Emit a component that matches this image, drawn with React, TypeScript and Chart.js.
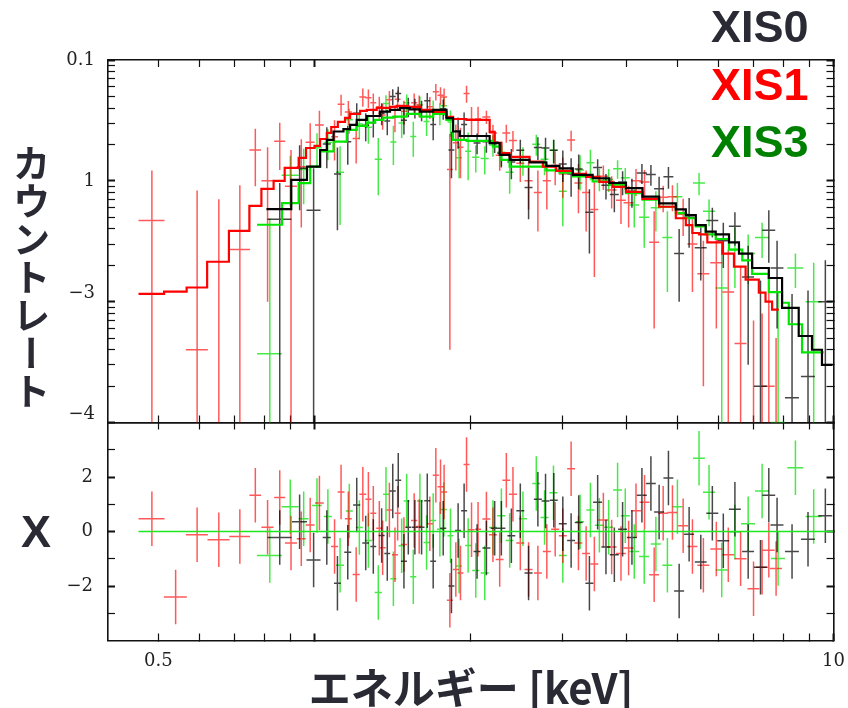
import React, { useEffect, useRef } from 'react';
import { Chart, registerables } from 'chart.js';

Chart.register(...registerables);

// ---------------- axis ranges & ticks ----------------
const X_MIN = 0.4;
const X_MAX = 10;
const RATE_MIN = 0.0001;
const RATE_MAX = 0.1;
const RESID_MIN = -4;
const RESID_MAX = 4;

const energyTicks = [0.5, 0.6, 0.7, 0.8, 0.9, 1, 2, 3, 4, 5, 6, 7, 8, 9, 10];
const energyTickLabels = ['0.5', '', '', '', '', '', '', '', '', '', '', '', '', '', '10'];
const energyMajor = [1, 10];

const rateTicks = [
  0.0001, 0.0002, 0.0003, 0.0004, 0.0005, 0.0006, 0.0007, 0.0008, 0.0009,
  0.001, 0.002, 0.003, 0.004, 0.005, 0.006, 0.007, 0.008, 0.009,
  0.01, 0.02, 0.03, 0.04, 0.05, 0.06, 0.07, 0.08, 0.09, 0.1,
];
const rateTickLabels = [
  '−4', '', '', '', '', '', '', '', '',
  '−3', '', '', '', '', '', '', '', '',
  '1', '', '', '', '', '', '', '', '', '0.1',
];
const rateMajor = [0.0001, 0.001, 0.01, 0.1];

const residTicks = [-3, -2, -1, 0, 1, 2, 3];
const residTickLabels = ['', '−2', '', '0', '', '2', ''];
const residMajor = [-2, 0, 2];
const RESID_SIGMA = 1;

// ---------------- XIS0 (black) ----------------
const xis0ModelEdges = [0.808, 0.902, 0.967, 1.025, 1.056, 1.088, 1.137, 1.171, 1.206, 1.261, 1.337, 1.398, 1.461, 1.527, 1.596, 1.693, 1.796, 1.849, 1.905, 2.175, 2.274, 2.377, 2.596, 2.796, 2.965, 3.145, 3.435, 3.699, 3.982, 4.285, 4.613, 4.968, 5.193, 5.428, 5.673, 5.930, 6.290, 6.575, 6.970, 7.505, 7.960, 8.570, 9.090, 9.501, 9.96];
const xis0Model = [0.00584, 0.0102, 0.0131, 0.0180, 0.0218, 0.0256, 0.0268, 0.0290, 0.0319, 0.0344, 0.0374, 0.0386, 0.0399, 0.0391, 0.0374, 0.0386, 0.0330, 0.0256, 0.0235, 0.0205, 0.0164, 0.0149, 0.0142, 0.0133, 0.0127, 0.0112, 0.0105, 0.0096, 0.0087, 0.0074, 0.0065, 0.0058, 0.0052, 0.0043, 0.0038, 0.0036, 0.0031, 0.0025, 0.0019, 0.00157, 0.00089, 0.00052, 0.00040, 0.00030];
const xis0E = [0.857, 0.936, 0.996, 1.056, 1.107, 1.159, 1.206, 1.255, 1.298, 1.347, 1.381, 1.415, 1.450, 1.487, 1.516, 1.561, 1.608, 1.649, 1.693, 1.770, 1.836, 1.891, 1.942, 2.057, 2.144, 2.224, 2.291, 2.395, 2.492, 2.585, 2.694, 2.787, 2.891, 3.009, 3.122, 3.229, 3.386, 3.512, 3.644, 3.782, 3.923, 4.089, 4.274, 4.448, 4.613, 4.808, 5.042, 5.270, 5.550, 5.842, 6.133, 6.457, 6.848, 7.233, 7.505, 7.785, 8.320, 8.931, 9.645];
const xis0dE = [0.0455, 0.031, 0.031, 0.019, 0.017, 0.018, 0.019, 0.019, 0.017, 0.018, 0.018, 0.019, 0.019, 0.020, 0.020, 0.021, 0.021, 0.022, 0.022, 0.024, 0.024, 0.025, 0.026, 0.032, 0.038, 0.039, 0.041, 0.042, 0.044, 0.046, 0.048, 0.049, 0.051, 0.053, 0.055, 0.057, 0.060, 0.070, 0.073, 0.075, 0.078, 0.091, 0.095, 0.098, 0.102, 0.106, 0.112, 0.117, 0.147, 0.155, 0.163, 0.171, 0.182, 0.208, 0.216, 0.224, 0.258, 0.276, 0.299];
const xis0Rate = [0.0048, 0.0127, 0.0057, 0.0202, 0.0114, 0.0211, 0.0363, 0.0288, 0.0303, 0.0363, 0.0313, 0.0498, 0.0527, 0.0317, 0.0411, 0.0403, 0.0386, 0.0459, 0.0292, 0.0395, 0.0180, 0.0259, 0.0292, 0.0206, 0.0211, 0.0210, 0.0169, 0.0143, 0.0179, 0.0088, 0.0189, 0.0187, 0.0179, 0.0138, 0.0114, 0.0125, 0.0055, 0.0129, 0.0092, 0.0077, 0.0098, 0.0082, 0.0116, 0.0113, 0.0086, 0.0108, 0.0025, 0.0050, 0.0028, 0.0047, 0.0032, 0.0042, 0.0016, 0.0002, 0.0039, 0.0019, 0.00016, 0.00024, 0.0010];
const xis0Err = [0.0048, 0.007, 0.007, 0.0075, 0.0075, 0.0075, 0.0075, 0.0075, 0.0075, 0.0075, 0.0075, 0.0075, 0.0075, 0.0075, 0.0075, 0.0075, 0.0075, 0.0075, 0.0075, 0.0075, 0.0075, 0.0075, 0.0075, 0.004, 0.004, 0.004, 0.004, 0.004, 0.004, 0.004, 0.004, 0.004, 0.004, 0.004, 0.004, 0.004, 0.003, 0.0022, 0.0022, 0.0022, 0.0022, 0.0022, 0.0022, 0.0022, 0.0022, 0.0022, 0.0015, 0.0022, 0.0013, 0.0013, 0.0013, 0.0013, 0.0013, 0.0013, 0.0018, 0.0013, 0.001, 0.001, 0.0012];
const xis0Resid = [-0.22, 0.36, -1.05, -0.22, -1.9, -0.76, 0.97, -0.42, -0.55, -0.15, -0.81, 1.49, 1.88, -1.09, 0.16, 0.16, 0.16, 1.13, -1.09, 0.12, -2.0, 0.04, 0.76, -0.73, -0.61, 0.12, 0.12, -0.16, 0.76, -1.52, 1.18, 1.12, 1.15, 0.28, -0.33, 0.33, -1.9, 1.07, -0.57, -0.85, 0.08, -0.22, 1.33, 1.76, 0.72, 1.96, -2.18, -0.1, -1.12, 0.67, -0.34, 0.82, -0.73, -1.31, 1.33, 0.24, -0.73, -0.28, 0.58];

// ---------------- XIS1 (red) ----------------
const xis1ModelEdges = [0.458, 0.513, 0.567, 0.621, 0.684, 0.749, 0.790, 0.834, 0.876, 0.932, 0.963, 1.000, 1.025, 1.056, 1.077, 1.109, 1.145, 1.171, 1.224, 1.261, 1.318, 1.398, 1.440, 1.516, 1.596, 1.693, 1.796, 1.849, 1.962, 2.175, 2.224, 2.291, 2.376, 2.596, 2.754, 2.922, 3.145, 3.336, 3.539, 3.753, 3.982, 4.285, 4.613, 4.968, 5.193, 5.346, 5.507, 5.713, 6.105, 6.430, 6.771, 7.180, 7.396, 7.616, 7.845];
const xis1Model = [0.00116, 0.00121, 0.00131, 0.00214, 0.00386, 0.00621, 0.00859, 0.0100, 0.0128, 0.0155, 0.0187, 0.0195, 0.0222, 0.0249, 0.0279, 0.0307, 0.0332, 0.0358, 0.0379, 0.0386, 0.0401, 0.0409, 0.0417, 0.0409, 0.0386, 0.0372, 0.0338, 0.0325, 0.0319, 0.0254, 0.0206, 0.0170, 0.0158, 0.0144, 0.0131, 0.0121, 0.0114, 0.0108, 0.0098, 0.0089, 0.0081, 0.0071, 0.0061, 0.0049, 0.0043, 0.0037, 0.0036, 0.0031, 0.0025, 0.00195, 0.00152, 0.00119, 0.0010, 0.00086];
const xis1E = [0.486, 0.540, 0.594, 0.654, 0.718, 0.769, 0.812, 0.857, 0.901, 0.943, 0.981, 1.022, 1.093, 1.125, 1.162, 1.203, 1.239, 1.270, 1.298, 1.333, 1.353, 1.394, 1.429, 1.446, 1.487, 1.556, 1.591, 1.668, 1.713, 1.749, 1.777, 1.823, 1.872, 1.911, 1.963, 2.007, 2.066, 2.144, 2.207, 2.274, 2.342, 2.412, 2.492, 2.585, 2.694, 2.803, 2.909, 3.009, 3.122, 3.225, 3.337, 3.461, 3.602, 3.737, 3.895, 4.029, 4.163, 4.324, 4.513, 4.697, 4.894, 5.132, 5.348, 5.614, 5.946, 6.270, 6.622, 7.013, 7.285, 7.505, 7.751];
const xis1dE = [0.028, 0.0275, 0.029, 0.032, 0.033, 0.020, 0.022, 0.021, 0.024, 0.019, 0.0195, 0.020, 0.017, 0.017, 0.018, 0.019, 0.019, 0.017, 0.017, 0.018, 0.018, 0.018, 0.019, 0.019, 0.020, 0.021, 0.021, 0.022, 0.023, 0.023, 0.024, 0.024, 0.025, 0.025, 0.026, 0.027, 0.027, 0.038, 0.039, 0.040, 0.041, 0.043, 0.044, 0.046, 0.048, 0.050, 0.052, 0.053, 0.055, 0.057, 0.059, 0.061, 0.080, 0.083, 0.086, 0.089, 0.092, 0.096, 0.100, 0.104, 0.108, 0.114, 0.118, 0.149, 0.158, 0.166, 0.176, 0.186, 0.193, 0.199, 0.206];
const xis1Rate = [0.0047, -0.0007, 0.0004, 0.00004, 0.0027, 0.018, 0.0100, 0.0213, 0.0090, 0.0131, 0.0209, 0.0290, 0.0232, 0.0430, 0.0372, 0.0224, 0.0495, 0.0486, 0.0443, 0.0411, 0.0350, 0.0468, 0.0337, 0.0474, 0.0376, 0.0443, 0.0424, 0.0410, 0.0547, 0.0511, 0.0495, 0.0124, 0.0207, 0.0190, 0.0528, 0.0324, 0.0326, 0.0338, 0.0249, 0.0163, 0.0249, 0.0216, 0.0140, 0.0100, 0.0080, 0.0100, 0.0134, 0.0114, 0.0218, 0.0096, 0.0080, 0.0058, 0.0109, 0.0084, 0.0069, 0.0066, 0.0100, 0.0098, 0.0031, 0.0073, 0.0074, 0.0053, 0.0030, 0.0017, 0.0021, 0.0012, 0.00045, -0.0003, -0.0004, 0.0002, -0.0005];
const xis1Err = [0.0075, 0.0007, 0.0079, 0.0070, 0.0065, 0.009, 0.009, 0.009, 0.009, 0.009, 0.009, 0.009, 0.0085, 0.0085, 0.0085, 0.0085, 0.0085, 0.0085, 0.0085, 0.0085, 0.0085, 0.0085, 0.0085, 0.0085, 0.0085, 0.0085, 0.0085, 0.0085, 0.0085, 0.0085, 0.0085, 0.012, 0.0085, 0.0085, 0.0085, 0.0085, 0.0085, 0.0042, 0.0042, 0.0042, 0.0042, 0.0042, 0.0042, 0.0042, 0.0042, 0.0042, 0.0042, 0.0042, 0.0042, 0.0042, 0.0042, 0.0042, 0.0025, 0.0025, 0.0025, 0.0025, 0.0025, 0.0025, 0.0025, 0.0018, 0.0018, 0.0018, 0.0018, 0.0015, 0.0015, 0.0015, 0.0015, 0.001, 0.0012, 0.0012, 0.001];
const xis1Resid = [0.47, -2.4, -0.12, -0.3, -0.18, 1.33, 0.16, 1.25, -0.42, -0.27, 0.24, 1.05, -0.55, 1.45, 0.47, -1.58, 1.37, 1.18, 0.67, 0.12, -0.6, 0.79, -0.85, 0.67, -0.48, 0.4, 0.18, 0.28, 2.06, 1.64, 1.45, -2.52, -1.39, -1.52, 2.46, 0.06, 0.08, 0.46, -0.12, -1.03, 1.88, 1.37, -0.42, -1.39, -1.52, -0.73, 0.08, -0.16, 2.3, -0.42, -0.81, -1.19, 0.42, -0.57, -0.81, -0.61, 0.76, 1.07, -1.59, 0.67, 0.7, 0.21, -0.55, -1.24, -0.64, -0.85, -1.0, -2.1, -1.31, -0.69, -1.36];

// ---------------- XIS3 (green) ----------------
const xis3ModelEdges = [0.775, 0.866, 0.932, 0.981, 1.025, 1.088, 1.154, 1.206, 1.261, 1.308, 1.357, 1.419, 1.505, 1.596, 1.693, 1.796, 1.849, 1.963, 2.207, 2.291, 2.377, 2.796, 2.965, 3.145, 3.435, 3.699, 3.982, 4.285, 4.613, 4.968, 5.193, 5.428, 5.673, 5.930, 6.290, 6.672, 6.970, 7.505, 7.960, 8.200, 8.697, 9.573];
const xis3Model = [0.00433, 0.00654, 0.00957, 0.0131, 0.0175, 0.0211, 0.0264, 0.0285, 0.0303, 0.0319, 0.0334, 0.0340, 0.0358, 0.0340, 0.0358, 0.0319, 0.0218, 0.0214, 0.0192, 0.0149, 0.0131, 0.0122, 0.0117, 0.0109, 0.0099, 0.0093, 0.0079, 0.0070, 0.0061, 0.0054, 0.0049, 0.0042, 0.0036, 0.0033, 0.0027, 0.0022, 0.0017, 0.0012, 0.00098, 0.00065, 0.00038];
const xis3E = [0.820, 0.898, 0.953, 1.011, 1.061, 1.120, 1.167, 1.220, 1.270, 1.327, 1.373, 1.419, 1.472, 1.505, 1.550, 1.596, 1.644, 1.693, 1.744, 1.775, 1.828, 1.899, 1.977, 2.045, 2.128, 2.207, 2.291, 2.377, 2.521, 2.675, 2.775, 2.887, 3.009, 3.249, 3.401, 3.539, 3.688, 3.837, 3.970, 4.131, 4.318, 4.547, 4.786, 5.003, 5.507, 5.757, 6.090, 6.457, 6.848, 7.285, 7.821, 8.446, 9.159];
const xis3dE = [0.045, 0.034, 0.021, 0.022, 0.019, 0.020, 0.018, 0.019, 0.020, 0.021, 0.018, 0.019, 0.020, 0.020, 0.021, 0.021, 0.022, 0.022, 0.023, 0.024, 0.024, 0.025, 0.026, 0.032, 0.038, 0.039, 0.041, 0.042, 0.045, 0.047, 0.049, 0.051, 0.053, 0.058, 0.060, 0.070, 0.073, 0.076, 0.079, 0.091, 0.096, 0.101, 0.106, 0.111, 0.146, 0.153, 0.162, 0.171, 0.212, 0.226, 0.242, 0.299, 0.324];
const xis3Rate = [0.00037, 0.0111, 0.0124, 0.0188, 0.0208, 0.0118, 0.0320, 0.0296, 0.0278, 0.0151, 0.0436, 0.0210, 0.0301, 0.0442, 0.0233, 0.0424, 0.0310, 0.0388, 0.0364, 0.0419, 0.0307, 0.0155, 0.0176, 0.0157, 0.0153, 0.0198, 0.0172, 0.0118, 0.0150, 0.0201, 0.0151, 0.0179, 0.0082, 0.0123, 0.0141, 0.0104, 0.0103, 0.0126, 0.0106, 0.0063, 0.0050, 0.0060, 0.0034, 0.0074, 0.0096, 0.0056, 0.0013, 0.0027, 0.0025, 0.0034, 0.0001, 0.0019, 0.0010];
const xis3Err = [0.0045, 0.005, 0.006, 0.006, 0.006, 0.0075, 0.0075, 0.0075, 0.0075, 0.0075, 0.0075, 0.0075, 0.0075, 0.0075, 0.0075, 0.0075, 0.0075, 0.0075, 0.0075, 0.0075, 0.0075, 0.005, 0.0075, 0.004, 0.004, 0.004, 0.004, 0.004, 0.004, 0.004, 0.004, 0.004, 0.004, 0.004, 0.004, 0.0022, 0.0022, 0.0022, 0.0022, 0.0022, 0.0022, 0.0022, 0.0022, 0.0022, 0.002, 0.0014, 0.0014, 0.0014, 0.0011, 0.0011, 0.0011, 0.0006, 0.0011];
const xis3Resid = [-0.88, 0.91, 0.47, 0.95, 0.55, -1.24, 0.75, 0.15, -0.33, -2.24, 1.37, -1.73, -0.52, 1.12, -1.66, 1.12, -0.4, 0.4, 0.08, 0.81, -0.16, -1.27, -0.51, -1.43, -1.52, 0.15, 0.58, -0.33, 0.47, 1.76, 0.51, 1.42, -0.88, 0.36, 0.79, 0.23, 0.16, 1.52, 0.58, -0.73, -0.92, -0.46, -1.24, 0.91, 2.69, 1.44, -1.41, -0.02, 0.28, 1.49, -0.99, 2.34, 0.55];

// ---------------- colours ----------------
const COLORS = {
  xis0: { model: '#000000', data: 'rgba(0,0,0,0.72)' },
  xis1: { model: '#ff0000', data: 'rgba(255,0,0,0.65)' },
  xis3: { model: '#00e600', data: 'rgba(0,225,0,0.72)' },
};
const ZERO_LINE_COLOR = '#1fe61f';
const TEXT_DARK = '#2a2a35';

type Pt = { x: number; y: number | null };

function stepPoints(edges: number[], vals: number[]): Pt[] {
  return edges.map((x, i) => ({ x, y: vals[Math.min(i, vals.length - 1)] }));
}

// error crosses for the log-scaled count-rate panel
function rateCrosses(e: number[], de: number[], v: number[], err: number[]): Pt[] {
  const pts: Pt[] = [];
  for (let i = 0; i < e.length; i++) {
    const top = v[i] + err[i];
    if (top <= 0) continue;
    if (v[i] > 0) {
      pts.push({ x: e[i] - de[i], y: v[i] }, { x: e[i] + de[i], y: v[i] }, { x: e[i], y: null });
    }
    pts.push({ x: e[i], y: Math.max(v[i] - err[i], 1e-7) }, { x: e[i], y: top }, { x: e[i], y: null });
  }
  return pts;
}

// residual crosses (1 sigma vertical bars)
function residCrosses(e: number[], de: number[], r: number[]): Pt[] {
  const pts: Pt[] = [];
  for (let i = 0; i < e.length; i++) {
    pts.push({ x: e[i] - de[i], y: r[i] }, { x: e[i] + de[i], y: r[i] }, { x: e[i], y: null });
    pts.push({ x: e[i], y: r[i] - RESID_SIGMA }, { x: e[i], y: r[i] + RESID_SIGMA }, { x: e[i], y: null });
  }
  return pts;
}

function makeScale(o: {
  type: 'logarithmic' | 'linear';
  position: 'left' | 'right' | 'top' | 'bottom';
  min: number;
  max: number;
  ticks: number[];
  labels?: string[];
  raised?: string[];
  major: number[];
  size: number;
  pad?: number;
}) {
  const isMajor = (v: number) => o.major.some((m) => Math.abs(m - v) < Math.abs(m) * 1e-6 + 1e-9);
  return {
    type: o.type,
    position: o.position,
    min: o.min,
    max: o.max,
    afterBuildTicks: (s: any) => {
      s.ticks = o.ticks.map((v) => ({ value: v }));
    },
    afterFit: (s: any) => {
      if (o.position === 'left' || o.position === 'right') s.width = o.size;
      else s.height = o.size;
      s.paddingLeft = 0;
      s.paddingRight = 0;
      s.paddingTop = 0;
      s.paddingBottom = 0;
    },
    ticks: {
      display: !!o.labels,
      autoSkip: false,
      maxRotation: 0,
      minRotation: 0,
      padding: o.pad ?? 0,
      font: { family: '"DejaVu Serif", serif', size: 18, lineHeight: 0.95 },
      color: '#222222',
      callback: (_v: any, i: number) => {
        if (!o.labels) return '';
        const l = o.labels[i];
        // PGPLOT draws these two exponent labels slightly above their tick
        return o.raised && o.raised.includes(l) ? [l, ''] : l;
      },
    },
    grid: {
      display: true,
      drawOnChartArea: false,
      drawTicks: true,
      tickLength: -7,
      tickColor: '#111111',
      tickWidth: (ctx: any) => (ctx.tick && isMajor(ctx.tick.value) ? 2 : 1.2),
    },
    border: { display: true, color: '#111111', width: 1.6 },
  };
}

const lineDefaults = {
  pointRadius: 0,
  pointHoverRadius: 0,
  pointHitRadius: 0,
  spanGaps: false,
  fill: false,
  tension: 0,
};

export default function App() {
  const topRef = useRef<HTMLCanvasElement | null>(null);
  const botRef = useRef<HTMLCanvasElement | null>(null);

  useEffect(() => {
    if (!topRef.current || !botRef.current) return;

    const topChart = new Chart(topRef.current, {
      type: 'line',
      data: {
        datasets: [
          { ...lineDefaults, label: 'XIS0 model', data: stepPoints(xis0ModelEdges, xis0Model), borderColor: COLORS.xis0.model, borderWidth: 2.2, stepped: 'before' },
          { ...lineDefaults, label: 'XIS1 model', data: stepPoints(xis1ModelEdges, xis1Model), borderColor: COLORS.xis1.model, borderWidth: 2.2, stepped: 'before' },
          { ...lineDefaults, label: 'XIS3 model', data: stepPoints(xis3ModelEdges, xis3Model), borderColor: COLORS.xis3.model, borderWidth: 2.2, stepped: 'before' },
          { ...lineDefaults, label: 'XIS0', data: rateCrosses(xis0E, xis0dE, xis0Rate, xis0Err), borderColor: COLORS.xis0.data, borderWidth: 1.5 },
          { ...lineDefaults, label: 'XIS1', data: rateCrosses(xis1E, xis1dE, xis1Rate, xis1Err), borderColor: COLORS.xis1.data, borderWidth: 1.5 },
          { ...lineDefaults, label: 'XIS3', data: rateCrosses(xis3E, xis3dE, xis3Rate, xis3Err), borderColor: COLORS.xis3.data, borderWidth: 1.5 },
        ] as any,
      },
      options: {
        animation: false,
        responsive: false,
        events: [],
        layout: { padding: { left: 0, top: 60, right: 14.5, bottom: 285.5 } },
        plugins: { legend: { display: false }, tooltip: { enabled: false } },
        scales: {
          x: makeScale({ type: 'logarithmic', position: 'bottom', min: X_MIN, max: X_MAX, ticks: energyTicks, major: energyMajor, size: 0 }),
          xTop: makeScale({ type: 'logarithmic', position: 'top', min: X_MIN, max: X_MAX, ticks: energyTicks, major: energyMajor, size: 0 }),
          y: makeScale({ type: 'logarithmic', position: 'left', min: RATE_MIN, max: RATE_MAX, ticks: rateTicks, labels: rateTickLabels, raised: ['−3', '−4'], major: rateMajor, size: 108, pad: 20 }),
          yRight: makeScale({ type: 'logarithmic', position: 'right', min: RATE_MIN, max: RATE_MAX, ticks: rateTicks, major: rateMajor, size: 0 }),
        } as any,
      },
    });

    const zeroLine: Pt[] = [
      { x: xis1ModelEdges[0], y: 0 },
      { x: X_MAX, y: 0 },
    ];

    const botChart = new Chart(botRef.current, {
      type: 'line',
      data: {
        datasets: [
          { ...lineDefaults, label: 'zero', data: zeroLine, borderColor: ZERO_LINE_COLOR, borderWidth: 1.6 },
          { ...lineDefaults, label: 'XIS0', data: residCrosses(xis0E, xis0dE, xis0Resid), borderColor: COLORS.xis0.data, borderWidth: 1.5 },
          { ...lineDefaults, label: 'XIS1', data: residCrosses(xis1E, xis1dE, xis1Resid), borderColor: COLORS.xis1.data, borderWidth: 1.5 },
          { ...lineDefaults, label: 'XIS3', data: residCrosses(xis3E, xis3dE, xis3Resid), borderColor: COLORS.xis3.data, borderWidth: 1.5 },
        ] as any,
      },
      options: {
        animation: false,
        responsive: false,
        events: [],
        layout: { padding: { left: 0, top: 422.5, right: 14.5, bottom: 0 } },
        plugins: { legend: { display: false }, tooltip: { enabled: false } },
        scales: {
          x: makeScale({ type: 'logarithmic', position: 'bottom', min: X_MIN, max: X_MAX, ticks: energyTicks, labels: energyTickLabels, major: energyMajor, size: 67.5, pad: 19 }),
          xTop: makeScale({ type: 'logarithmic', position: 'top', min: X_MIN, max: X_MAX, ticks: energyTicks, major: energyMajor, size: 0 }),
          y: makeScale({ type: 'linear', position: 'left', min: RESID_MIN, max: RESID_MAX, ticks: residTicks, labels: residTickLabels, major: residMajor, size: 108, pad: 22 }),
          yRight: makeScale({ type: 'linear', position: 'right', min: RESID_MIN, max: RESID_MAX, ticks: residTicks, major: residMajor, size: 0 }),
        } as any,
      },
    });

    return () => {
      topChart.destroy();
      botChart.destroy();
    };
  }, []);

  const legendBase: React.CSSProperties = {
    position: 'absolute',
    left: 711,
    fontFamily: '"Liberation Sans", Arial, sans-serif',
    fontWeight: 700,
    fontSize: 45,
    lineHeight: '45px',
    whiteSpace: 'nowrap',
  };

  return (
    <div style={{ position: 'absolute', left: 0, top: 0, width: 848, height: 708, background: '#ffffff', overflow: 'hidden' }}>
      <canvas ref={botRef} width={848} height={708} style={{ position: 'absolute', left: 0, top: 0 }} />
      <canvas ref={topRef} width={848} height={708} style={{ position: 'absolute', left: 0, top: 0 }} />
      <div style={{ ...legendBase, top: 4, color: TEXT_DARK }}>XIS0</div>
      <div style={{ ...legendBase, top: 62, color: '#ff0000' }}>XIS1</div>
      <div style={{ ...legendBase, top: 119, color: '#008000' }}>XIS3</div>
      <div
        style={{
          position: 'absolute',
          left: 12,
          top: 144,
          writingMode: 'vertical-rl',
          textOrientation: 'upright',
          fontFamily: '"Noto Sans CJK JP", sans-serif',
          fontWeight: 700,
          fontSize: 38,
          lineHeight: '38px',
          color: TEXT_DARK,
          whiteSpace: 'nowrap',
        }}
      >
        カウントレート
      </div>
      <div
        style={{
          position: 'absolute',
          left: 21,
          top: 509,
          fontFamily: '"Liberation Sans", Arial, sans-serif',
          fontWeight: 700,
          fontSize: 45,
          lineHeight: '45px',
          color: TEXT_DARK,
        }}
      >
        X
      </div>
      <div
        style={{
          position: 'absolute',
          left: 108,
          width: 726,
          top: 665,
          textAlign: 'center',
          fontFamily: '"Liberation Sans Narrow", "Noto Sans CJK JP", sans-serif',
          fontWeight: 700,
          fontSize: 42,
          lineHeight: '42px',
          color: TEXT_DARK,
          whiteSpace: 'nowrap',
        }}
      >
        エネルギー [keV]
      </div>
    </div>
  );
}
